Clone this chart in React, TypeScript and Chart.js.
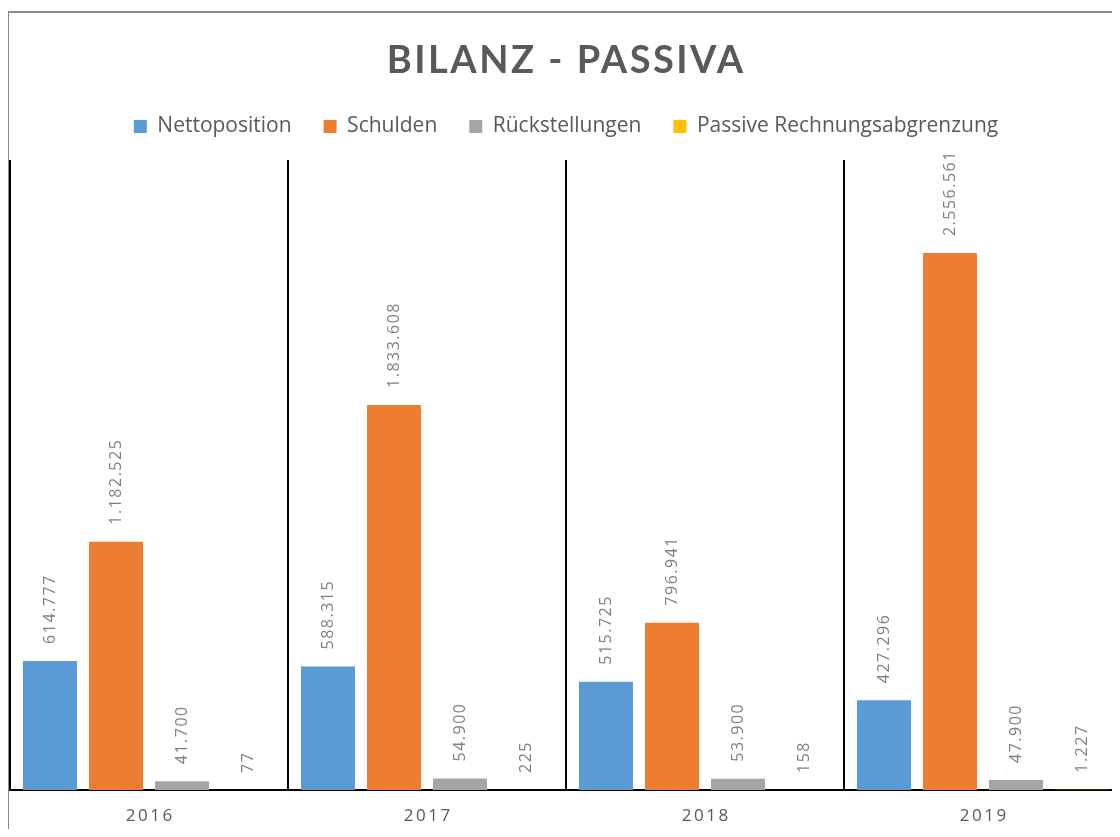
import { useEffect, useRef } from "react";
import { Chart, registerables } from "chart.js";

Chart.register(...registerables);

const chartTitle = "BILANZ - PASSIVA";
const years = ["2016", "2017", "2018", "2019"];
const seriesNames = ["Nettoposition", "Schulden", "Rückstellungen", "Passive Rechnungsabgrenzung"];
const nettoposition = [614777, 588315, 515725, 427296];
const schulden = [1182525, 1833608, 796941, 2556561];
const rueckstellungen = [41700, 54900, 53900, 47900];
const passiveRA = [77, 225, 158, 1227];
const seriesColors = ["#5B9BD5", "#ED7D31", "#A5A5A5", "#FFC000"];
const yMax = 3000000;

const CANVAS_W = 1114;
const CANVAS_H = 829;

const fmt = (v: number) => String(v).replace(/\B(?=(\d{3})+(?!\d))/g, ".");

function drawSpaced(
  ctx: CanvasRenderingContext2D,
  text: string,
  cx: number,
  y: number,
  spacing: number,
  font: string,
  color: string,
  baseline: CanvasTextBaseline
) {
  ctx.save();
  ctx.font = font;
  ctx.fillStyle = color;
  ctx.textBaseline = baseline;
  ctx.textAlign = "left";
  (ctx as any).letterSpacing = "0px";
  const w0 = ctx.measureText(text).width;
  const total = w0 + (text.length - 1) * spacing;
  (ctx as any).letterSpacing = spacing + "px";
  ctx.fillText(text, cx - total / 2, y);
  ctx.restore();
}

export default function App() {
  const ref = useRef<HTMLCanvasElement>(null);

  useEffect(() => {
    const canvas = ref.current;
    if (!canvas) return;

    const valueLabels = {
      id: "valueLabels",
      afterDatasetsDraw(chart: any) {
        const ctx: CanvasRenderingContext2D = chart.ctx;
        ctx.save();
        ctx.font = '16px "Open Sans"';
        ctx.fillStyle = "#7F7F7F";
        (ctx as any).letterSpacing = "1.5px";
        ctx.textAlign = "left";
        ctx.textBaseline = "middle";
        chart.data.datasets.forEach((ds: any, di: number) => {
          const meta = chart.getDatasetMeta(di);
          meta.data.forEach((bar: any, i: number) => {
            const v = ds.data[i] as number;
            ctx.save();
            ctx.translate(bar.x, bar.y - 17);
            ctx.rotate(-Math.PI / 2);
            ctx.fillText(fmt(v), 0, 0);
            ctx.restore();
          });
        });
        ctx.restore();
      },
    };

    const spacedText = {
      id: "spacedText",
      afterDraw(chart: any) {
        const ctx: CanvasRenderingContext2D = chart.ctx;
        drawSpaced(ctx, chartTitle, chart.width / 2, 65, 2.5, "bold 38px Lato", "#595959", "alphabetic");
        const xs = chart.scales.x;
        years.forEach((y, i) => {
          drawSpaced(ctx, y, xs.getPixelForValue(i), 808, 2.5, '17px "Open Sans"', "#595959", "middle");
        });
      },
    };

    const values = [nettoposition, schulden, rueckstellungen, passiveRA];

    const chart = new Chart(canvas, {
      type: "bar",
      data: {
        labels: years,
        datasets: seriesNames.map((name, i) => ({
          label: name,
          data: values[i],
          backgroundColor: seriesColors[i],
          borderWidth: 0,
          categoryPercentage: 0.95,
          barPercentage: 0.818,
        })),
      },
      options: {
        responsive: false,
        animation: false,
        devicePixelRatio: 1,
        layout: { padding: { top: 76, bottom: 47, left: 2, right: 0 } },
        font: { family: "'Open Sans'" },
        plugins: {
          title: { display: false },
          subtitle: {
            display: true,
            text: "",
            position: "top",
            weight: 500,
            font: { size: 10, lineHeight: 1 },
            padding: { top: 3, bottom: 0 },
          },
          legend: {
            display: true,
            position: "top",
            labels: {
              color: "#595959",
              font: { family: "'Open Sans'", size: 21 },
              boxWidth: 13,
              boxHeight: 13,
              padding: 32,
            },
          },
          tooltip: { enabled: false },
        },
        scales: {
          x: {
            grid: {
              display: true,
              offset: true,
              color: "#000000",
              lineWidth: 2,
              drawTicks: false,
              drawOnChartArea: true,
            },
            border: { display: true, color: "#000000", width: 2 },
            ticks: { display: false },
          },
          y: {
            display: false,
            min: 0,
            max: yMax,
          },
        },
      } as any,
      plugins: [valueLabels, spacedText],
    });

    return () => chart.destroy();
  }, []);

  return (
    <div
      style={{
        position: "relative",
        width: 1112,
        height: CANVAS_H,
        overflow: "hidden",
        marginBottom: -8,
        background: "#ffffff",
      }}
    >
      <div
        style={{
          position: "absolute",
          left: -1,
          top: 3,
          width: 1200,
          height: 1000,
          borderLeft: "2px solid #8a8a8a",
          borderTop: "2px solid #8a8a8a",
          boxSizing: "border-box",
        }}
      />
      <canvas
        ref={ref}
        width={CANVAS_W}
        height={CANVAS_H}
        style={{ position: "absolute", left: 0, top: 0, width: CANVAS_W, height: CANVAS_H }}
      />
    </div>
  );
}
